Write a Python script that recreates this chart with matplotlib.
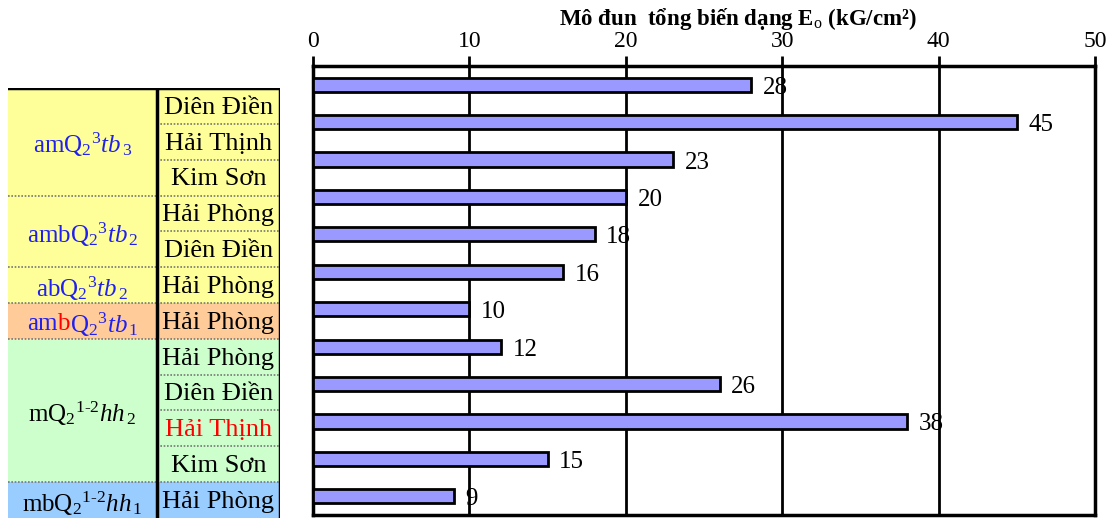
import matplotlib
matplotlib.use("Agg")
import matplotlib.pyplot as plt
from matplotlib.patches import Rectangle

plt.rcParams['font.family'] = ['Liberation Serif', 'DejaVu Serif']
plt.rcParams['mathtext.fontset'] = 'custom'
plt.rcParams['mathtext.rm'] = 'Liberation Serif'
plt.rcParams['mathtext.it'] = 'Liberation Serif:italic'

# soil layers and the sites sampled in each
group_labels = [r"amQ$_2{}^3\mathit{tb}_{\,3}$",
                r"ambQ$_2{}^3\mathit{tb}_{\,2}$",
                r"abQ$_2{}^3\mathit{tb}_{\,2}$",
                None,
                r"mQ$_2{}^{1\text{-}2}\mathit{hh}_{\,2}$",
                r"mbQ$_2{}^{1\text{-}2}\mathit{hh}_{\,1}$"]
group_sizes = [3, 2, 1, 1, 4, 1]
group_colors = ['#FFFF99', '#FFFF99', '#FFFF99', '#FFCC99', '#CCFFCC', '#99CCFF']
group_text_colors = ['#2020F0', '#2020F0', '#2020F0', '#2020F0', 'black', 'black']
locations = ["Diên Điền", "Hải Thịnh", "Kim Sơn",
             "Hải Phòng", "Diên Điền",
             "Hải Phòng",
             "Hải Phòng",
             "Hải Phòng", "Diên Điền", "Hải Thịnh", "Kim Sơn",
             "Hải Phòng"]
location_colors = ['black'] * 9 + ['red'] + ['black'] * 2
# modulus of deformation E0 (kG/cm2)
values = [28, 45, 23, 20, 18, 16, 10, 12, 26, 38, 15, 9]

fig = plt.figure(figsize=(11.10, 5.18), dpi=100)

# ---- bar chart ----
ax = fig.add_axes([313/1110, 3/518, 782/1110, 449/518])
n = len(values)
ypos = list(range(n))
ax.barh(ypos, values, height=0.38, color='#9999FF', edgecolor='black', linewidth=2, zorder=3)
for y, v in zip(ypos, values):
    ax.text(v + 0.75, y + 0.08, str(v), va='center', ha='left', fontsize=18, zorder=4)
ax.set_xlim(0, 50)
ax.set_ylim(n - 0.5, -0.5)
ax.set_xticks(range(0, 51, 10))
ax.xaxis.tick_top()
ax.tick_params(axis='x', direction='out', length=7, width=2, labelsize=17, pad=3)
ax.set_yticks([])
ax.grid(axis='x', color='black', linewidth=2, zorder=1)
for s in ax.spines.values():
    s.set_linewidth(2.5)
fig.text(738/1110, 1 - 19/518, "Mô đun  tổng biến dạng E$_\\mathrm{o}$ (kG/cm²)",
         fontsize=16.5, fontweight='bold', ha='center', va='center')

# ---- table of layers and sites ----
tx = fig.add_axes([8/1110, 0, 272/1110, 430/518])
tx.set_xlim(0, 1)
tx.set_ylim(n, 0)
tx.axis('off')
split = 149/272

row = 0
group_rows = []
for size, col in zip(group_sizes, group_colors):
    tx.add_patch(Rectangle((0, row), 1, size, facecolor=col, edgecolor='none'))
    group_rows.append(row)
    row += size

for i, (loc, c) in enumerate(zip(locations, location_colors)):
    tx.text((split + 1) / 2, i + 0.55, loc, ha='center', va='center', fontsize=19, color=c)
    if i > 0:
        tx.plot([split, 1], [i, i], color='#777777', lw=1.2, ls=(0, (1, 1)))

for start in group_rows[1:]:
    tx.plot([0, split], [start, start], color='#777777', lw=1.2, ls=(0, (1, 1)))

tx.plot([split, split], [0, n], color='black', lw=2.5)
tx.plot([1, 1], [0, n], color='black', lw=2.5)
tx.plot([0, 1], [0, 0], color='black', lw=2.5)

for lab, start, size, c in zip(group_labels, group_rows, group_sizes, group_text_colors):
    if lab is not None:
        tx.text(split / 2, start + size / 2 + 0.1, lab, ha='center', va='center',
                fontsize=18, color=c)

# layer label with the red "b"
renderer = fig.canvas.get_renderer()
ymid = group_rows[3] + 0.6
pieces = [("am", '#2020F0'), ("b", 'red'), (r"Q$_2{}^3\mathit{tb}_{\,1}$", '#2020F0')]
texts = []
x = 0
for s, c in pieces:
    t = tx.text(x, ymid, s, ha='left', va='center', fontsize=18, color=c)
    bb = t.get_window_extent(renderer).transformed(tx.transData.inverted())
    texts.append(t)
    x = bb.x1
shift = split / 2 - x / 2
for t in texts:
    px, py = t.get_position()
    t.set_position((px + shift, py))

fig.savefig("out.png", dpi=100)
